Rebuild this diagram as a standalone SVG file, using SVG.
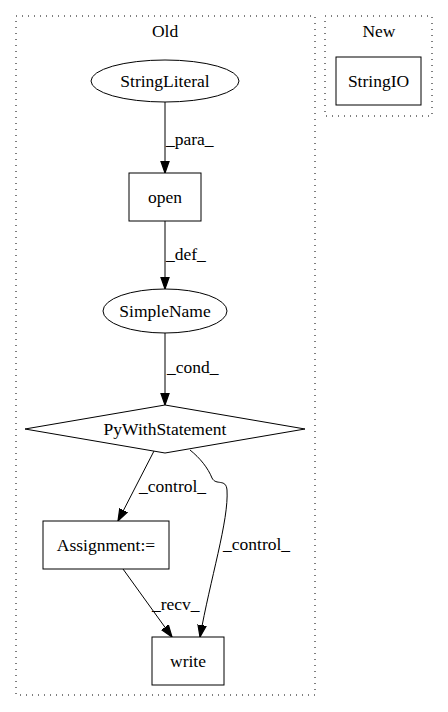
<svg xmlns="http://www.w3.org/2000/svg" width="448" height="712" viewBox="0 0 448 712">
<style>
text{font-family:"Liberation Serif","Times New Roman",serif;font-size:17.5px;fill:#000}
.c{text-anchor:middle}
.cl{fill:none;stroke:#000;stroke-dasharray:1,5}
.n{fill:#fff;stroke:#000;stroke-width:1}
.e{fill:none;stroke:#000;stroke-width:1}
</style>
<defs>
<marker id="a" viewBox="0 0 10 10" refX="10" refY="5" markerWidth="12" markerHeight="12" markerUnits="userSpaceOnUse" orient="auto">
<path d="M0,1.5 L10,5 L0,8.5 Z" fill="#000" stroke="#000"/>
</marker>
</defs>
<rect width="448" height="712" fill="#fff"/>
<g id="cluster_old">
<rect class="cl" x="16" y="16" width="299" height="679"/>
<text class="c" x="165" y="37">Old</text>
</g>
<g id="cluster_new">
<rect class="cl" x="325" y="16" width="107" height="100"/>
<text class="c" x="379" y="37">New</text>
</g>
<g id="connectors">
<path class="e" d="M165,102 L165,173" marker-end="url(#a)"/>
<text x="166" y="145">_para_</text>
<path class="e" d="M165,221 L165,289" marker-end="url(#a)"/>
<text x="166" y="260">_def_</text>
<path class="e" d="M165,333 L165,405" marker-end="url(#a)"/>
<text x="167" y="373">_cond_</text>
<path class="e" d="M154,451 L118,521" marker-end="url(#a)"/>
<text x="139" y="492">_control_</text>
<path class="e" d="M190,450 C200,458 208,468 212,478 C216,486 226,478 227,490 C229,520 210,580 200,637" marker-end="url(#a)"/>
<text x="223" y="550">_control_</text>
<path class="e" d="M123,569 L172,637" marker-end="url(#a)"/>
<text x="152" y="610">_recv_</text>
</g>
<g id="StringLiteral">
<ellipse class="n" cx="165" cy="81" rx="74" ry="21"/>
<text class="c" x="165" y="87">StringLiteral</text>
</g>
<g id="open">
<rect class="n" x="129" y="173" width="72" height="48"/>
<text class="c" x="165" y="203">open</text>
</g>
<g id="SimpleName">
<ellipse class="n" cx="165" cy="311" rx="62" ry="22"/>
<text class="c" x="165" y="317">SimpleName</text>
</g>
<g id="PyWithStatement">
<polygon class="n" points="165,405 305,429 165,453 25,429"/>
<text class="c" x="165" y="435">PyWithStatement</text>
</g>
<g id="Assignment">
<rect class="n" x="43" y="521" width="126" height="48"/>
<text class="c" x="106" y="551">Assignment:=</text>
</g>
<g id="write">
<rect class="n" x="152" y="637" width="72" height="48"/>
<text class="c" x="188" y="667">write</text>
</g>
<g id="StringIO">
<rect class="n" x="336" y="57" width="85" height="48"/>
<text class="c" x="378.5" y="87">StringIO</text>
</g>
</svg>
